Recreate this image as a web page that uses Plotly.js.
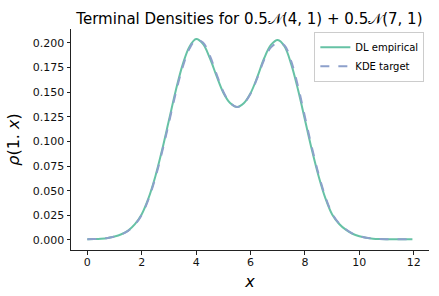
<!DOCTYPE html>
<html>
<head>
<meta charset="utf-8">
<script src="https://cdn.plot.ly/plotly-3.0.1.min.js"></script>
<style>html,body{margin:0;padding:0;background:#fff;}#chart{width:439px;height:296px;}</style>
</head>
<body>
<div id="chart"></div>
<script>
const xGrid = [0,0.25,0.5,0.75,1,1.25,1.5,1.75,2,2.25,2.5,2.75,3,3.25,3.5,3.75,4,4.25,4.5,4.75,5,5.25,5.5,5.75,6,6.25,6.5,6.75,7,7.25,7.5,7.75,8,8.25,8.5,8.75,9,9.25,9.5,9.75,10,10.25,10.5,10.75,11,11.25,11.5,11.75,11.95];
const dlEmpirical = [0.0007,0.0009,0.0013,0.0021,0.0035,0.0058,0.0095,0.0160,0.0262,0.0425,0.0645,0.0915,0.1215,0.1515,0.1775,0.1960,0.2040,0.1990,0.1850,0.1665,0.1495,0.1390,0.1350,0.1388,0.1490,0.1655,0.1845,0.1980,0.2030,0.1965,0.1780,0.1520,0.1220,0.0920,0.0650,0.0425,0.0258,0.0165,0.0105,0.0063,0.0038,0.0022,0.0013,0.0009,0.0007,0.0006,0.0006,0.0006,0.0006];
const kdeTarget = [0.0007,0.0009,0.0013,0.0021,0.0034,0.0056,0.0092,0.0155,0.0255,0.0415,0.0630,0.0895,0.1190,0.1490,0.1750,0.1940,0.2032,0.2005,0.1875,0.1685,0.1505,0.1392,0.1350,0.1385,0.1485,0.1645,0.1830,0.1955,0.2000,0.1975,0.1810,0.1555,0.1250,0.0945,0.0670,0.0440,0.0268,0.0170,0.0108,0.0065,0.0039,0.0023,0.0014,0.0009,0.0007,0.0006,0.0006,0.0006,0.0006];
const seriesNames = ['DL empirical','KDE target'];
const xTicks = [0,2,4,6,8,10,12];
const yTicks = [0,0.025,0.05,0.075,0.1,0.125,0.15,0.175,0.2];

const traces = [
  {x:xGrid, y:dlEmpirical, name:seriesNames[0], mode:'lines', line:{color:'#66c2a5', width:2, shape:'spline'}},
  {x:xGrid, y:kdeTarget, name:seriesNames[1], mode:'lines', line:{color:'#8da0cb', width:2, dash:'dash', shape:'spline'}}
];
const font = 'DejaVu Sans, Noto Sans, sans-serif';
const layout = {
  width:439, height:296,
  margin:{l:71, r:10, t:29, b:46, pad:0},
  paper_bgcolor:'#fff', plot_bgcolor:'#fff',
  font:{family:font, size:11, color:'#111'},
  title:{text:'Terminal Densities for 0.5𝒩(4, 1) + 0.5𝒩(7, 1)', font:{family:font, size:15, color:'#000'}, x:0.5682, xanchor:'center', y:0.935, yanchor:'middle'},
  xaxis:{range:[-0.6, 12.56], tickvals:xTicks, ticks:'outside', ticklen:3.5, tickcolor:'#222', ticklabelstandoff:-2, showline:true, linecolor:'#222', linewidth:1, showgrid:false, zeroline:false, mirror:false,
    title:{text:'<i>x</i>', font:{size:16, color:'#000'}, standoff:8}},
  yaxis:{range:[-0.0102, 0.2142], tickvals:yTicks, tickformat:'.3f', ticks:'outside', ticklen:3.5, tickcolor:'#222', showline:true, linecolor:'#222', linewidth:1, showgrid:false, zeroline:false,
    title:{text:'<i>ρ</i>(1. <i>x</i>)', font:{size:16, color:'#000'}, standoff:9}},
  legend:{x:0.987, y:0.988, xanchor:'right', yanchor:'top', bgcolor:'rgba(255,255,255,0.8)', bordercolor:'#cccccc', borderwidth:1, font:{size:10, color:'#000'}},
  showlegend:true
};
Plotly.newPlot('chart', traces, layout, {staticPlot:true, displayModeBar:false});
</script>
</body>
</html>
